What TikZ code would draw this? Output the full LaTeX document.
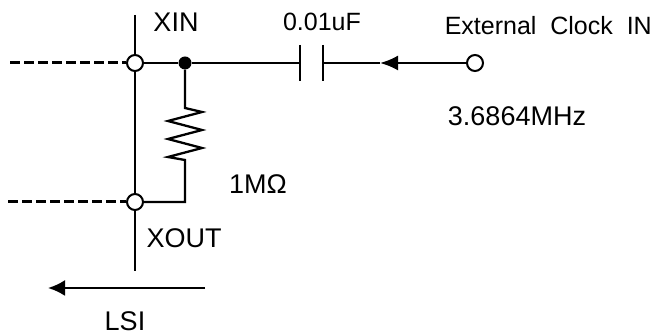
\documentclass[tikz,border=0pt]{standalone}
\usepackage{fontspec}
\setmainfont{Liberation Sans}
\usetikzlibrary{arrows.meta}
\tikzset{
    wire/.style={line width=2.3pt},
    pin/.style={circle,draw,fill=white,line width=2pt,minimum size=16pt,inner sep=0pt},
    jdot/.style={circle,fill=black,minimum size=13pt,inner sep=0pt},
    lbl/.style={inner sep=0pt,font=\fontsize{27}{32}\selectfont},
    slbl/.style={inner sep=0pt,font=\fontsize{25}{30}\selectfont},
    dashwire/.style={line width=3pt,dash pattern=on 10pt off 4pt}
}
\begin{document}
\begin{tikzpicture}[x=1pt,y=-1pt]
        \useasboundingbox (0,0) rectangle (654,336);
        \coordinate (top) at (135,15);
        \coordinate (bot) at (135,271);
        \draw[wire] (top) -- (bot);
        \node[pin] (xin) at (135,63) {};
        \node[pin] (xout) at (135,202) {};
        \node[pin] (clk) at (475,63) {};
        \node[jdot] (jn) at (185,63) {};
        \coordinate (xinL) at (10,63);
        \coordinate (xoutL) at (8,202);
        \draw[dashwire] (xinL) -- (xin.west);
        \draw[dashwire] (xoutL) -- (xout.west);
        \draw[wire] (xin) -- (jn);
        % capacitor
        \coordinate (capA) at (300,63);
        \coordinate (capB) at (323,63);
        \coordinate (ctip) at (380,63);
        \draw[wire] (jn) -- (capA);
        \draw[wire] (300,45) -- (300,81);
        \draw[wire] (323,45) -- (323,81);
        \draw[wire,-{Latex[length=18pt,width=15pt]}] (clk.west) -- (ctip);
        \draw[wire] (ctip) -- (capB);
        % resistor
        \draw[wire,line join=miter] (jn) -- (185,108) -- (202,112) -- (168,121)
            -- (202,130) -- (168,139) -- (202,148) -- (168,157) -- (185,160)
            |- (xout);
        % LSI arrow
        \coordinate (lsiA) at (205,288);
        \coordinate (lsiB) at (48,288);
        \draw[wire,-{Latex[length=17pt,width=16pt]}] (lsiA) -- (lsiB);
        \node[lbl] (xinlbl) at (176,22) {XIN};
        \node[slbl] (caplbl) at (322,22) {0.01uF};
        \node[slbl,anchor=east] (clklbl) at (652,26) {External\ \ Clock\ \ IN};
        \node[lbl] (frqlbl) at (517,116) {3.6864MHz};
        \node[lbl] (reslbl) at (258,184) {1MΩ};
        \node[lbl] (xoutlbl) at (184,238) {XOUT};
        \node[lbl] (lsilbl) at (125,321) {LSI};
    \end{tikzpicture}
\end{document}
